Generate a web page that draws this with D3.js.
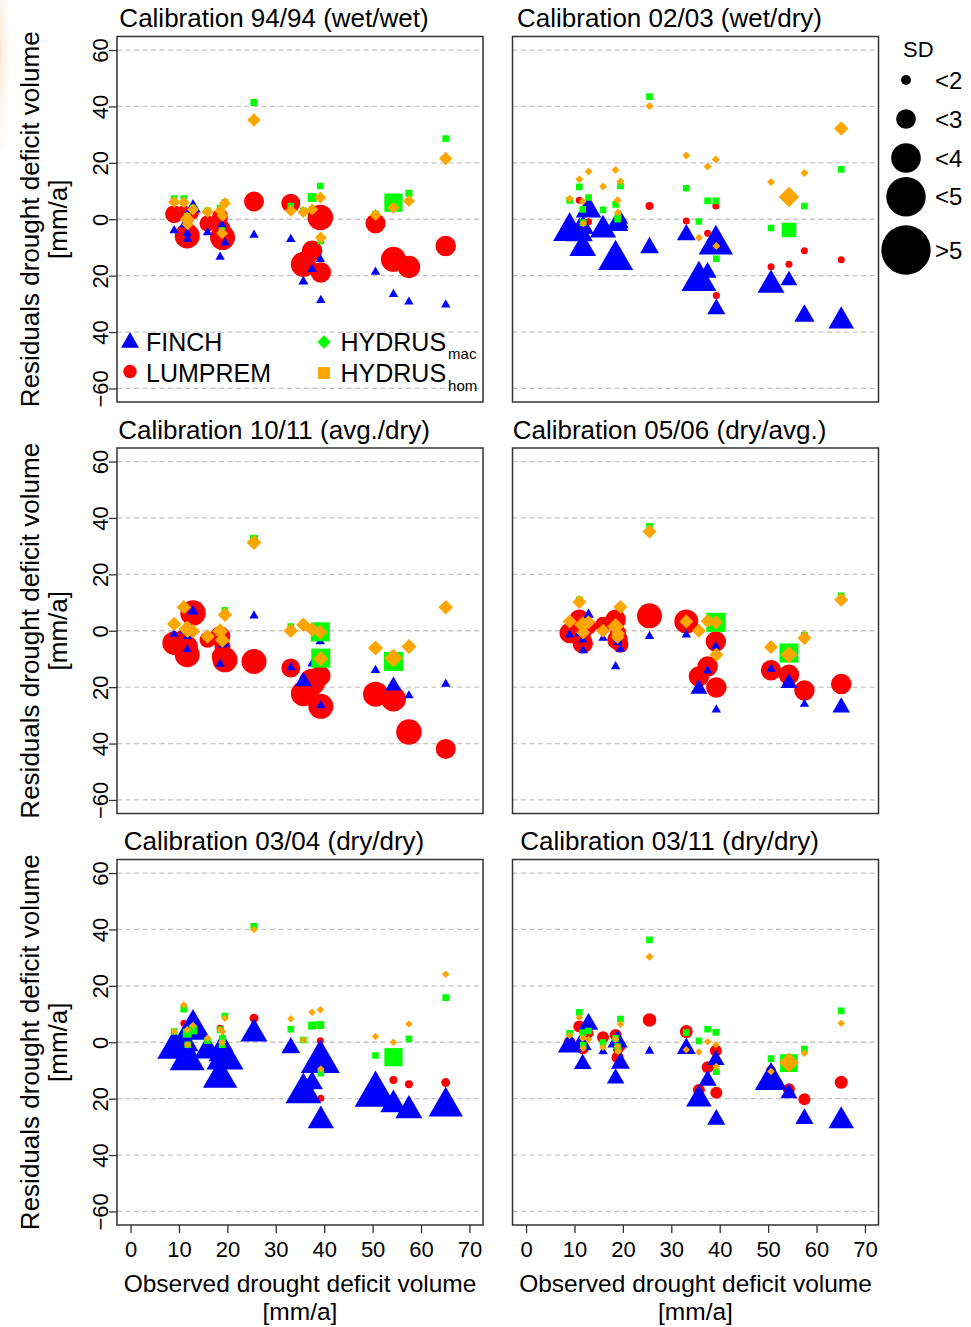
<!DOCTYPE html>
<html>
<head>
<meta charset="utf-8">
<script src="https://cdn.jsdelivr.net/npm/d3@7"></script>
<style>
  html, body { margin: 0; padding: 0; background: #fff; }
  svg { display: block; font-family: "Liberation Sans", Arial, Helvetica, sans-serif; }
</style>
</head>
<body>
<svg id="chart" width="971" height="1327"></svg>
<script>
// Observed drought deficit volume of each event [mm/a]
const observed = [9.0, 11.0, 11.7, 11.8, 12.9, 15.9, 18.5, 18.9, 19.0, 19.5, 25.5, 33.1, 35.7, 37.5, 39.2, 39.3, 50.6, 54.3, 57.5, 65.1];

const panelTitles = [
  "Calibration 94/94 (wet/wet)", "Calibration 02/03 (wet/dry)",
  "Calibration 10/11 (avg./dry)", "Calibration 05/06 (dry/avg.)",
  "Calibration 03/04 (dry/dry)", "Calibration 03/11 (dry/dry)"
];

const yTickValues = [-60, -40, -20, 0, 20, 40, 60];
const yTickLabels = ["\u221260", "40", "20", "0", "20", "40", "60"];
const xTickValues = [0, 10, 20, 30, 40, 50, 60, 70];

// Residuals per calibration (rows) and event (columns) [mm/a]
const finchResidual = [
  [-4, -2, -5, -7, 4, -4.7, -13.4, -2, -4, -8.3, -5.6, -7.1, -22.1, -17.7, -14.2, -28.7, -18.7, -26.6, -29.3, -30.3],
  [-4.3, -5, -10.3, -3, 3.2, -3.8, -14.4, -2, -1, 0, -10.1, -5.5, -21.9, -18.9, -9.0, -31.8, -23.3, -21.7, -34.3, -36.1],
  [-1.2, 0, -6.7, -2, 6.9, -2, -11.8, -3, -5, -4.6, 5.3, -13, -18, -11.7, -3.8, -26.5, -14, -19.5, -23, -18.9],
  [-1.4, -1, -3.2, -7, 5.7, -2.6, -12.7, -3, -4, -6.5, -2, -1.4, -20.6, -14.2, -5.6, -28, -13.6, -18.6, -26, -27.2],
  [-2.4, -2, -6.3, -1, 4.5, -3, -12.6, -4, -1, -5.9, 3, -2, -18, -14.5, -6.9, -27.8, -18.6, -22.1, -24.2, -22.8],
  [-1.2, -1, -7.7, -1, 6.4, -3.3, -12.8, 0.2, 0, -7.5, -3.1, -2.2, -20.2, -13.6, -6.3, -27.4, -13.6, -18.1, -27.1, -27.9]
];
const finchSD = [
  [1.4, 1.4, 1.4, 1.4, 2.3, 1.4, 1.4, 1.4, 1.4, 1.4, 1.4, 1.4, 1.5, 1.4, 1.4, 1.4, 1.4, 1.4, 1.4, 1.4],
  [4.9, 4.0, 4.0, 3.2, 3.8, 3.9, 5.2, 3.2, 3.2, 2.3, 2.8, 2.8, 5.2, 2.7, 5.1, 2.7, 4.0, 2.5, 3.0, 3.8],
  [1.4, 1.4, 1.4, 1.4, 1.7, 1.4, 1.4, 1.4, 1.4, 1.4, 1.4, 1.4, 2.5, 1.4, 1.4, 1.4, 1.4, 2.4, 1.4, 1.4],
  [1.4, 1.4, 1.4, 1.4, 1.6, 1.4, 1.4, 1.4, 1.4, 1.4, 1.4, 1.4, 2.5, 1.4, 1.4, 1.4, 1.4, 2.5, 1.4, 2.6],
  [5.0, 4.0, 5.2, 3.2, 5.3, 4.0, 5.1, 4.0, 3.2, 5.5, 4.0, 2.8, 5.3, 3.2, 5.8, 3.9, 6.2, 3.9, 4.0, 5.1],
  [3.5, 2.5, 2.6, 2.5, 2.9, 1.4, 2.6, 3.0, 2.0, 2.8, 1.4, 2.8, 3.8, 2.7, 2.6, 2.7, 4.8, 2.5, 2.7, 3.8]
];

const lumpremResidual = [
  [1.8, 3, -5.9, 0, 2, -1.5, 1, -3, -6.5, -5, 6.3, 5.7, -16, -11.2, 0.6, -18.9, -1.5, -14.2, -16.9, -9.5],
  [-4, 6.7, -10, -3, -0.9, -3.8, -2.6, -2, -1, -1, 4.7, -0.6, -20, -5, 4.7, -27, -16.8, -16, -11.2, -14.4],
  [-4.4, -3.2, -8.5, -5.6, 6.3, -3.2, -2, -9.1, -5.6, -10.3, -10.9, -13.2, -22.3, -18.2, -16, -26.8, -22.5, -24.2, -35.9, -41.9],
  [-0.8, 3.9, -4.4, -0.8, 1.5, 2.1, 3.9, -3.2, -0.8, -5, 5.3, 3.3, -16.2, -12.7, -3.8, -20.1, -14, -15.6, -21.2, -18.9],
  [-2.4, 6.7, -6.3, -1, 4.5, -3, 5, -4, -1, -5.9, 8.5, -2, -18, -14.5, 0.5, -19.9, -18.6, -13.4, -14.9, -14.3],
  [-0.1, 5.6, -2.1, -1, 3.2, 1.8, 2.6, -5.3, -2.7, -1.5, 7.9, 3.8, -16.9, -8.9, -3, -17.9, -10, -16.7, -20.2, -14.2]
];
const lumpremSD = [
  [3.6, 2.3, 5.0, 2.3, 2.3, 3.2, 3.2, 3.2, 5.0, 3.2, 4.0, 3.8, 5.0, 4.1, 5.1, 4.1, 4.0, 5.0, 4.5, 4.1],
  [1.4, 1.4, 1.4, 1.4, 1.4, 1.4, 1.4, 1.4, 1.4, 1.4, 1.6, 1.4, 1.4, 1.4, 1.4, 1.4, 1.4, 1.4, 1.4, 1.4],
  [4.7, 4.1, 5.0, 4.1, 5.1, 3.2, 4.1, 4.1, 3.2, 5.0, 5.0, 3.8, 5.0, 5.3, 4.1, 5.0, 5.0, 5.0, 5.1, 4.0],
  [4.1, 4.1, 4.1, 3.2, 3.2, 3.2, 4.1, 4.1, 3.2, 3.2, 5.0, 4.8, 4.1, 4.1, 4.1, 4.1, 4.1, 4.1, 4.1, 4.1],
  [1.4, 1.4, 1.4, 1.4, 1.4, 1.4, 1.4, 1.4, 1.4, 1.4, 1.8, 1.4, 1.4, 1.4, 1.4, 1.4, 1.4, 1.6, 1.6, 1.8],
  [2.4, 2.4, 2.4, 2.0, 2.0, 2.4, 2.4, 2.4, 2.0, 2.0, 2.7, 2.6, 2.4, 2.4, 2.4, 2.4, 2.0, 2.4, 2.4, 2.6]
];

const hydrusMacResidual = [
  [7.3, 7.3, 1, -1, 4, 3, 4, -4, 1.5, 6, 41.4, 4.7, 3, 7.7, 11.8, -7.7, 1.8, 5.9, 9.2, 28.6],
  [6.7, 11.5, 3.5, -1.2, 7.7, 3.3, 5.3, 0, 1.2, 11.8, 43.5, 11, -0.8, 6.5, 6.5, -14, -3.1, -3.8, 4.7, 17.7],
  [2.4, 8.3, 1.5, 0, 0, -2, -0.2, -3.2, -3.5, 7.2, 32.6, 1.5, 2.1, 0.4, -0.4, -9.7, -6.1, -10.9, -5.6, 8],
  [3.3, 11, 2.1, -0.6, 3, 0, 1.5, -2.2, -1, 8.4, 37, 3.3, 0, 3.5, 3.0, -8.5, -5.8, -7.9, -1.5, 12.4],
  [3.8, 11.7, 3.2, -0.9, 4.4, 0.6, 4.4, -0.9, 1.4, 9.3, 41, 4.6, 0.8, 5.9, 6.1, -11, -4.7, -5.3, 1.2, 15.8],
  [3.2, 10.6, 3.4, -1, 4, -0.1, 1.4, -1.5, -2.7, 8.2, 36.3, 3.4, 0.5, 4.6, 3.5, -10.4, -5.8, -7.4, -2.4, 11.1]
];
const hydrusMacSD = [
  [1.5, 1.5, 1.5, 1.5, 1.5, 1.5, 1.5, 1.5, 1.5, 1.5, 1.6, 1.5, 1.5, 2.0, 1.5, 1.5, 1.5, 4.1, 1.6, 1.5],
  [1.5, 1.5, 1.5, 1.5, 1.5, 1.5, 1.5, 1.5, 1.5, 1.5, 1.5, 1.5, 1.5, 1.5, 1.5, 1.5, 1.5, 3.3, 1.5, 1.5],
  [1.5, 1.5, 1.5, 1.5, 1.5, 1.5, 1.5, 1.5, 1.5, 1.5, 1.8, 1.5, 1.5, 1.5, 4.3, 4.3, 1.5, 4.3, 1.5, 1.5],
  [1.5, 1.5, 1.5, 1.5, 1.5, 1.5, 1.5, 1.5, 1.5, 1.5, 1.5, 1.5, 1.5, 1.5, 4.3, 1.5, 1.5, 4.3, 1.5, 1.5],
  [1.5, 1.5, 2.0, 1.5, 2.0, 1.5, 1.5, 1.5, 1.5, 1.5, 1.6, 1.5, 1.5, 1.8, 1.8, 1.5, 1.5, 4.1, 1.5, 1.5],
  [1.5, 1.5, 1.5, 1.5, 1.5, 1.5, 1.5, 1.5, 1.5, 1.5, 1.5, 1.5, 1.5, 1.5, 1.5, 1.5, 1.5, 4.0, 1.5, 1.5]
];

const hydrusHomResidual = [
  [6.1, 5.9, 0, -1.8, 3.5, 2.6, 3, -5, 1.2, 5.7, 35.2, 3, 2.6, 3.5, 7.7, -6.5, 1.5, 4.1, 6.5, 21.5],
  [7.3, 14.2, 6.3, -1.5, 16.9, 11.6, 17.5, 6.7, 2.4, 13.4, 40.2, 22.6, -6.6, 18.7, 21.2, -9.5, 13.2, 7.9, 16.4, 32.2],
  [2.4, 8.3, 0.6, 0, -0.2, -2, -0.2, -3.2, -3.5, 5.7, 31.3, 0, 2.1, 0.4, -0.5, -9.9, -6.1, -9.7, -5.6, 8.3],
  [3.3, 10.2, 2.1, -0.6, 3, 0, 1.5, -2.2, -1, 8.4, 35.2, 3.3, 0, 3.5, 3, -8.5, -5.8, -8.5, -2.6, 11],
  [3.8, 13.2, 4.4, -0.9, 5.9, 1.4, 4.4, -0.1, 3.8, 8.5, 40, 8.3, 0.8, 10.6, 11.5, -9.5, 2, 0, 6.5, 24.1],
  [2.4, 8.8, 1.4, -2.1, 1, -1.8, 1.1, -1.5, -3.3, 6.4, 30.3, -2.7, -3.5, 0.2, -0.9, -8.6, -10.4, -7.2, -3.9, 6.7]
];
const hydrusHomSD = [
  [2.4, 2.4, 3.0, 2.4, 2.4, 2.4, 2.4, 2.4, 2.4, 2.4, 2.7, 2.4, 2.4, 2.4, 2.4, 2.4, 2.4, 2.4, 2.4, 2.7],
  [1.6, 1.6, 1.6, 1.6, 1.6, 1.6, 1.6, 1.6, 1.6, 1.6, 1.6, 1.6, 1.6, 1.6, 1.6, 1.6, 1.6, 4.1, 1.6, 2.9],
  [2.9, 2.9, 3.4, 2.9, 2.9, 2.9, 3.2, 2.9, 2.9, 2.9, 3.0, 2.9, 2.9, 2.9, 2.9, 3.0, 3.0, 3.7, 3.0, 2.9],
  [2.8, 2.8, 3.4, 2.8, 2.8, 2.8, 3.4, 2.8, 2.8, 2.8, 2.8, 2.8, 2.8, 2.8, 2.8, 2.8, 2.8, 3.4, 2.8, 2.8],
  [1.5, 1.5, 1.5, 1.5, 1.5, 1.5, 1.5, 1.5, 1.5, 1.5, 1.5, 1.5, 1.5, 1.5, 1.5, 1.5, 1.5, 1.5, 1.5, 1.5],
  [1.5, 1.5, 1.5, 1.5, 1.5, 1.5, 1.5, 1.5, 1.5, 1.5, 1.6, 1.5, 1.5, 1.5, 1.5, 1.5, 1.5, 4.0, 1.5, 1.5]
];

const sdLegendLevels = [1, 2, 3, 4, 5];
const sdLegendLabels = ["<2", "<3", "<4", "<5", ">5"];

// ---- marker shapes (size argument = nominal radius) ----
const shapeTriangle = { draw(ctx, r) {
  const h = 1.5551 * r, xc = 1.3468 * r, yc = 0.7776 * r;
  ctx.moveTo(0, -h); ctx.lineTo(xc, yc); ctx.lineTo(-xc, yc); ctx.closePath();
}};
const shapeCircle = { draw(ctx, r) { ctx.moveTo(r, 0); ctx.arc(0, 0, r, 0, 2 * Math.PI); } };
const shapeSquare = { draw(ctx, r) { const a = 0.8862 * r; ctx.rect(-a, -a, 2 * a, 2 * a); } };
const shapeDiamond = { draw(ctx, r) {
  ctx.moveTo(-r, 0); ctx.lineTo(0, -r); ctx.lineTo(r, 0); ctx.lineTo(0, r); ctx.closePath();
}};

// drawing order: LUMPREM, FINCH, HYDRUS mac, HYDRUS hom
const models = [
  { res: lumpremResidual, sd: lumpremSD, shape: shapeCircle, color: "#FF0000" },
  { res: finchResidual, sd: finchSD, shape: shapeTriangle, color: "#0000FF" },
  { res: hydrusMacResidual, sd: hydrusMacSD, shape: shapeSquare, color: "#00FF00" },
  { res: hydrusHomResidual, sd: hydrusHomSD, shape: shapeDiamond, color: "#FFA500" }
];

const svg = d3.select("#chart");
const FONT = "\"Liberation Sans\", Arial, Helvetica, sans-serif";

// faint warm tint on the top-left page edge
const defs = svg.append("defs");
const tint = defs.append("radialGradient").attr("id", "edgeTint")
  .attr("cx", 0).attr("cy", 0.35).attr("r", 0.9);
tint.append("stop").attr("offset", "0%").attr("stop-color", "#f7cfa6").attr("stop-opacity", 0.55);
tint.append("stop").attr("offset", "100%").attr("stop-color", "#ffffff").attr("stop-opacity", 0);
svg.append("rect").attr("x", 0).attr("y", 0).attr("width", 14).attr("height", 150).attr("fill", "url(#edgeTint)");

const colX = [117, 512.5];
const rowY = [36.5, 448, 859.5];
const panelW = 366, panelH = 365.5;

const x = d3.scaleLinear().domain([-2.8, 72.8]).range([0, panelW]);
const y = d3.scaleLinear().domain([-64.8, 64.8]).range([panelH, 0]);
const radius = d3.scaleLinear().domain([0, 1]).range([0, 2.5]);
const legendRadius = d3.scaleLinear().domain([0, 1]).range([0, 4.93]);

panelTitles.forEach((title, p) => {
  const col = p % 2, row = Math.floor(p / 2);
  const x0 = colX[col], y0 = rowY[row];
  const g = svg.append("g").attr("transform", `translate(${x0},${y0})`);

  // horizontal dashed grid
  g.append("g").selectAll("line").data(yTickValues).join("line")
    .attr("x1", 0).attr("x2", panelW)
    .attr("y1", d => y(d)).attr("y2", d => y(d))
    .attr("stroke", "#c4c4c4").attr("stroke-width", 1.3).attr("stroke-dasharray", "5,3.5");

  // markers
  models.forEach(m => {
    const pts = observed.map((o, i) => ({ x: o, y: m.res[p][i], sd: m.sd[p][i] }));
    g.append("g").selectAll("path").data(pts).join("path")
      .attr("transform", d => `translate(${x(d.x)},${y(d.y)})`)
      .attr("d", d => d3.symbol(m.shape, radius(d.sd))())
      .attr("fill", m.color);
  });

  // plot frame
  g.append("rect").attr("x", 0).attr("y", 0).attr("width", panelW).attr("height", panelH)
    .attr("fill", "none").attr("stroke", "#333").attr("stroke-width", 1.5);

  // title
  svg.append("text").attr("x", x0 + 157).attr("y", y0 - 9.5)
    .attr("text-anchor", "middle").attr("font-size", 26).attr("fill", "#000").text(title);

  // left axis
  if (col === 0) {
    const ay = g.append("g").call(
      d3.axisLeft(y).tickValues(yTickValues).tickFormat((d, i) => yTickLabels[i]).tickSize(8)
    );
    ay.select(".domain").remove();
    ay.selectAll(".tick line").attr("stroke", "#333").attr("stroke-width", 1.3);
    ay.selectAll(".tick text")
      .attr("x", null).attr("dy", null)
      .attr("transform", "translate(-9,0) rotate(-90)")
      .attr("text-anchor", "middle")
      .attr("font-size", 22).attr("font-family", FONT).attr("fill", "#000");

    const cy = y0 + panelH / 2;
    svg.append("text").attr("transform", `translate(39,${cy}) rotate(-90)`)
      .attr("text-anchor", "middle").attr("font-size", 26).text("Residuals drought deficit volume");
    svg.append("text").attr("transform", `translate(67,${cy}) rotate(-90)`)
      .attr("text-anchor", "middle").attr("font-size", 26).text("[mm/a]");
  }

  // bottom axis
  if (row === 2) {
    const ax = g.append("g").attr("transform", `translate(0,${panelH})`).call(
      d3.axisBottom(x).tickValues(xTickValues).tickFormat(d3.format("d")).tickSize(8)
    );
    ax.select(".domain").remove();
    ax.selectAll(".tick line").attr("stroke", "#333").attr("stroke-width", 1.3);
    ax.selectAll(".tick text").attr("y", 32).attr("dy", null)
      .attr("font-size", 22).attr("font-family", FONT).attr("fill", "#000");

    const cx = x0 + panelW / 2;
    svg.append("text").attr("x", cx).attr("y", 1292).attr("text-anchor", "middle")
      .attr("font-size", 24.5).text("Observed drought deficit volume");
    svg.append("text").attr("x", cx).attr("y", 1320).attr("text-anchor", "middle")
      .attr("font-size", 24.5).text("[mm/a]");
  }
});

// model legend inside the first panel
const leg = svg.append("g").attr("font-size", 25).attr("fill", "#000");
const legendMarkers = [
  { shape: shapeTriangle, color: "#0000FF", cx: 130, cy: 342.5 },
  { shape: shapeCircle, color: "#FF0000", cx: 130, cy: 371.5 },
  { shape: shapeDiamond, color: "#00FF00", cx: 324, cy: 342 },
  { shape: shapeSquare, color: "#FFA500", cx: 324, cy: 373 }
];
leg.selectAll("path").data(legendMarkers).join("path")
  .attr("transform", d => `translate(${d.cx},${d.cy})`)
  .attr("d", d => d3.symbol(d.shape, 6.7)())
  .attr("fill", d => d.color);
leg.append("text").attr("x", 146).attr("y", 350.5).text("FINCH");
leg.append("text").attr("x", 146).attr("y", 382).text("LUMPREM");
const h1 = leg.append("text").attr("x", 340.5).attr("y", 350.5);
h1.append("tspan").text("HYDRUS");
h1.append("tspan").attr("font-size", 15).attr("dy", 8).attr("dx", 2).text("mac");
const h2 = leg.append("text").attr("x", 340.5).attr("y", 382);
h2.append("tspan").text("HYDRUS");
h2.append("tspan").attr("font-size", 15).attr("dy", 8.5).attr("dx", 2).text("hom");

// SD size legend
const sdY = [80, 119, 158, 196.7, 250];
const sdg = svg.append("g");
sdg.append("text").attr("x", 903).attr("y", 57).attr("font-size", 22).text("SD");
sdg.selectAll("circle").data(sdLegendLevels).join("circle")
  .attr("cx", 906).attr("cy", (d, i) => sdY[i]).attr("r", d => legendRadius(d)).attr("fill", "#000");
sdg.selectAll("text.lab").data(sdLegendLabels).join("text").attr("class", "lab")
  .attr("x", 935).attr("y", (d, i) => sdY[i] + 8.5).attr("font-size", 24).text(d => d);
</script>
</body>
</html>
